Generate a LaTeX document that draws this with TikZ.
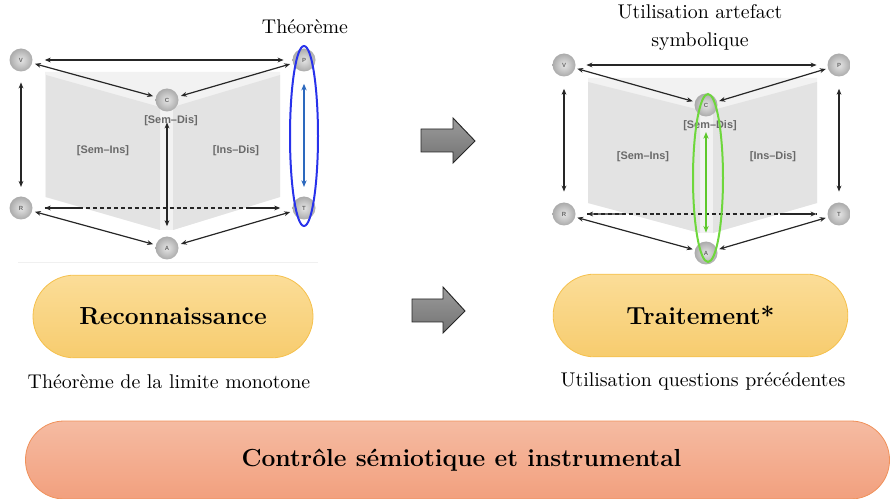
\documentclass[tikz,border=0pt]{standalone}
\usepackage{fontspec}
\newfontfamily\labfont{Liberation Sans}
\newfontfamily\tenrm{lmroman10-regular}[Extension=.otf]
\usetikzlibrary{arrows.meta,calc,shapes.geometric}
\definecolor{pagebg}{RGB}{242,242,242}
\definecolor{page}{RGB}{227,227,227}
\definecolor{lblgray}{RGB}{105,105,105}
\definecolor{ellblue}{RGB}{40,50,235}
\definecolor{arrblue}{RGB}{45,105,190}
\definecolor{ellgreen}{RGB}{110,215,60}
\definecolor{arrgreen}{RGB}{95,200,45}
\definecolor{ytop}{RGB}{251,221,152}
\definecolor{ybot}{RGB}{247,204,110}
\definecolor{yline}{RGB}{245,192,75}
\definecolor{stop}{RGB}{245,187,162}
\definecolor{sbot}{RGB}{242,160,126}
\definecolor{sline}{RGB}{240,145,90}
\definecolor{bigarrtop}{RGB}{155,155,155}
\definecolor{bigarrbot}{RGB}{115,115,115}
\tikzset{
  tip/.tip={Stealth[length=4.5pt,width=3.6pt]},
  ballnode/.style={circle,minimum size=17.25pt,inner sep=0pt,
    inner color=black!10,outer color=black!33,
    font=\labfont\bfseries\fontsize{4.5}{5}\selectfont,text=black!60},
  link/.style={draw=black!85,line width=0.9pt,tip-tip},
  linkl/.style={draw=black!85,line width=0.9pt,tip-},
  linkr/.style={draw=black!85,line width=0.9pt,-tip},
  dashlink/.style={draw=black!85,line width=0.9pt,dash pattern=on 3pt off 2.2pt},
  booklbl/.style={font=\labfont\bfseries\fontsize{8.2}{9}\selectfont,text=lblgray,inner sep=1pt},
  titletxt/.style={font=\tenrm\fontsize{14.9}{21}\selectfont,align=center,inner sep=0pt},
  yellowbox/.style={draw=yline,line width=0.6pt,top color=ytop,bottom color=ybot,
    rounded corners=31pt,font=\fontsize{18.5}{20}\selectfont\bfseries},
  salmonbox/.style={draw=sline,line width=0.6pt,top color=stop,bottom color=sbot,
    rounded corners=29pt,font=\fontsize{18.5}{20}\selectfont\bfseries},
  bigarrow/.style={draw=black!85,line width=0.7pt,top color=bigarrtop,bottom color=bigarrbot},
}
\begin{document}
\begin{tikzpicture}[x=0.75pt,y=-0.75pt]
\useasboundingbox (0,0) rectangle (890,499);

% ---------------- left diagram ----------------
\fill[pagebg] (45,72) -- (280,72) -- (280,197) -- (173,230) -- (160,230) -- (45,197) -- cycle;
\fill[page] (46,75) -- (160,107) -- (160,230) -- (46,197) -- cycle;
\fill[page] (173,107) -- (280,75) -- (280,197) -- (173,230) -- cycle;
\draw[black!6,line width=0.6pt] (18,262) -- (318,262);

\node[booklbl] (lsd) at (171,121) {[Sem–Dis]};
\node[booklbl] (lsi) at (103,151) {[Sem–Ins]};
\node[booklbl] (lid) at (236,151) {[Ins–Dis]};

\node[ballnode] (lV) at (21,60) {V};
\node[ballnode] (lP) at (304,60) {P};
\node[ballnode] (lC) at (167,100) {C};
\node[ballnode] (lR) at (21,208) {R};
\node[ballnode] (lT) at (304,208) {T};
\node[ballnode] (lA) at (167,248) {A};

\draw[link,shorten <=9pt,shorten >=6.5pt] (lV) -- (lP);
\draw[link,shorten <=2pt,shorten >=2pt] (lV) -- (lC);
\draw[link,shorten <=2pt,shorten >=2pt] (lP) -- (lC);
\draw[link,shorten <=8pt,shorten >=7pt] (lV) -- (lR);
\draw[link,shorten <=8pt,shorten >=7.5pt] (lC) -- (lA);
\draw[link,shorten <=2pt,shorten >=2pt] (lR) -- (lA);
\draw[link,shorten <=2pt,shorten >=2pt] (lA) -- (lT);
\coordinate (lRT1) at ($(lR)!0.21!(lT)$);
\coordinate (lRT2) at ($(lR)!0.80!(lT)$);
\draw[dashlink,shorten <=9pt,shorten >=9pt] (lR) -- (lT);
\draw[linkl,shorten <=9pt] (lR) -- (lRT1);
\draw[linkr,shorten >=9pt] (lRT2) -- (lT);

\draw[arrblue,line width=1.5pt,{Stealth[length=5pt,width=4pt]}-{Stealth[length=5pt,width=4pt]},shorten <=9pt,shorten >=7pt] (lP) -- (lT);
\node[ellipse,draw=ellblue,line width=1.5pt,minimum width=21pt,minimum height=135pt,inner sep=0pt] (lell) at (304,136) {};

\node[titletxt] (ltitle) at (305,27) {Théorème};

% ---------------- right diagram ----------------
\fill[pagebg] (588,78) -- (817,78) -- (817,203) -- (713,233) -- (700,233) -- (588,203) -- cycle;
\fill[page] (588,82) -- (700,110) -- (700,233) -- (588,203) -- cycle;
\fill[page] (713,110) -- (817,82) -- (817,203) -- (713,233) -- cycle;

\node[booklbl] (rsd) at (710,126) {[Sem–Dis]};
\node[booklbl] (rsi) at (643,157) {[Sem–Ins]};
\node[booklbl] (rid) at (773,157) {[Ins–Dis]};

\node[ballnode] (rV) at (564,65) {V};
\node[ballnode] (rP) at (839,65) {P};
\node[ballnode] (rC) at (706,105) {C};
\node[ballnode] (rR) at (564,214) {R};
\node[ballnode] (rT) at (839,214) {T};
\node[ballnode] (rA) at (706,253) {A};

\draw[link,shorten <=8pt,shorten >=8pt] (rV) -- (rP);
\draw[link,shorten <=1.5pt,shorten >=1.5pt] (rV) -- (rC);
\draw[link,shorten <=1.5pt,shorten >=1.5pt] (rP) -- (rC);
\draw[link,shorten <=9pt,shorten >=8pt] (rV) -- (rR);
\draw[link,shorten <=9pt,shorten >=8pt] (rP) -- (rT);
\draw[link,shorten <=1.5pt,shorten >=1.5pt] (rR) -- (rA);
\draw[link,shorten <=1.5pt,shorten >=1.5pt] (rA) -- (rT);
\coordinate (rRT1) at ($(rR)!0.21!(rT)$);
\coordinate (rRT2) at ($(rR)!0.785!(rT)$);
\draw[dashlink,shorten <=8.5pt,shorten >=8pt] (rR) -- (rT);
\draw[linkl,shorten <=8.5pt] (rR) -- (rRT1);
\draw[linkr,shorten >=8pt] (rRT2) -- (rT);

\draw[arrgreen,line width=1.5pt,{Stealth[length=5pt,width=4pt]}-{Stealth[length=5pt,width=4pt]},shorten <=11.5pt,shorten >=6.5pt] (rC) -- (rA);
\node[ellipse,draw=ellgreen,line width=1.5pt,minimum width=22.5pt,minimum height=126pt,inner sep=0pt] (rell) at (708,178) {};

\node[titletxt] (rtitle) at (700,28) {Utilisation artefact\\symbolique};

% ---------------- big arrows ----------------
\draw[bigarrow] (421,129) -- (453,129) -- (453,118) -- (475,141) -- (453,163) -- (453,152) -- (421,152) -- cycle;
\draw[bigarrow] (412,299) -- (443,299) -- (443,287) -- (465,311) -- (443,333) -- (443,322) -- (412,322) -- cycle;

% ---------------- boxes ----------------
\node[yellowbox,minimum width=210pt,minimum height=62pt] (reco) at (173,316.5) {Reconnaissance};
\node[yellowbox,minimum width=221pt,minimum height=62pt] (trait) at (700.5,315.5) {Traitement*};
\node[titletxt] (recotxt) at (169,382) {Théorème de la limite monotone};
\node[titletxt] (traittxt) at (703,381) {Utilisation questions précédentes};

\node[salmonbox,minimum width=648pt,minimum height=58.5pt] (ctrl) at (457.5,460) {\hspace*{6pt}Contrôle sémiotique et instrumental};
\end{tikzpicture}
\end{document}
